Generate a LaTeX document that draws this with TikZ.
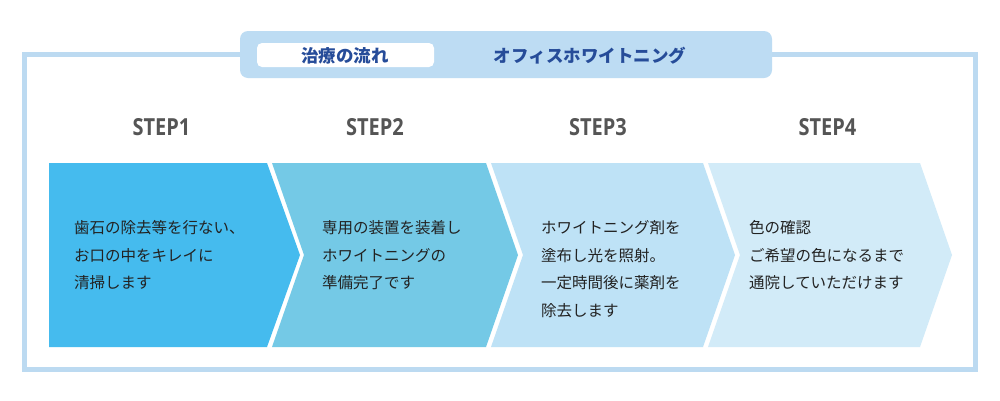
\documentclass[tikz,border=0pt]{standalone}
\usepackage{fontspec}
\setmainfont{Noto Sans CJK JP}
\newfontfamily\stepfont[FakeStretch=0.85]{Open Sans}
\definecolor{framec}{HTML}{BCDAF1}
\definecolor{hdrc}{HTML}{BDDCF3}
\definecolor{hdrtextc}{HTML}{264C99}
\definecolor{stepc}{HTML}{555555}
\definecolor{textc}{HTML}{222222}
\definecolor{cA}{HTML}{45BBEE}
\definecolor{cB}{HTML}{74C9E6}
\definecolor{cC}{HTML}{BEE2F6}
\definecolor{cD}{HTML}{D2EBF8}
\tikzset{
  body/.style={anchor=base west, inner sep=0pt, text=textc, font=\fontsize{15.5}{27.5}\selectfont},
  steplbl/.style={anchor=base, inner sep=0pt, text=stepc, font=\stepfont\bfseries\fontsize{23.5}{28}\selectfont},
  hdrtext/.style={anchor=center, inner sep=0pt, text=hdrtextc, font=\bfseries\fontsize{17.5}{20}\selectfont}
}
\begin{document}
\begin{tikzpicture}[x=1pt,y=-1pt]
\useasboundingbox (0,0) rectangle (1000,400);
\fill[white] (0,0) rectangle (1000,400);
% frame
\draw[framec, line width=5pt] (24.5,54.5) rectangle (975,369.5);
% header
\fill[hdrc, rounded corners=8pt] (240,31) rectangle (772,78);
\fill[white, rounded corners=5pt] (257,43) rectangle (434,67);
\node[hdrtext] (h1) at (345,56) {治療の流れ};
\node[hdrtext] (h2) at (590,56) {オフィスホワイトニング};
% step labels
\node[steplbl] (s1) at (161.5,135) {STEP1};
\node[steplbl] (s2) at (375,135) {STEP2};
\node[steplbl] (s3) at (598,135) {STEP3};
\node[steplbl] (s4) at (827.5,135) {STEP4};
% chevrons
\fill[cA] (49,163) -- (267,163) -- (300,255) -- (267,347) -- (49,347) -- cycle;
\fill[cB] (272,163) -- (486,163) -- (518,255) -- (486,347) -- (272,347) -- (304,255) -- cycle;
\fill[cC] (491,163) -- (703,163) -- (735,255) -- (703,347) -- (491,347) -- (523,255) -- cycle;
\fill[cD] (708,163) -- (920,163) -- (952,255) -- (920,347) -- (708,347) -- (740,255) -- cycle;
% texts
\node[body] (t1) at (74,233.5) {\parbox[t]{220pt}{歯石の除去等を行ない、\\お口の中をキレイに\\清掃します}};
\node[body] (t2) at (322,233.5) {\parbox[t]{200pt}{専用の装置を装着し\\ホワイトニングの\\準備完了です}};
\node[body] (t3) at (541,233.5) {\parbox[t]{200pt}{ホワイトニング剤を\\塗布し光を照射。\\一定時間後に薬剤を\\除去します}};
\node[body] (t4) at (749,233.5) {\parbox[t]{200pt}{色の確認\\ご希望の色になるまで\\通院していただけます}};
\end{tikzpicture}
\end{document}
